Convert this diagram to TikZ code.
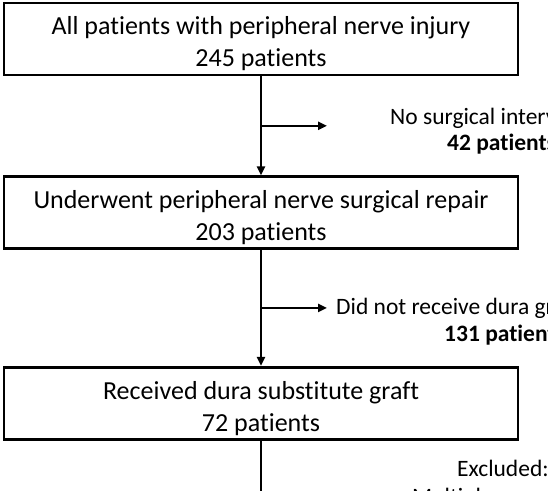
\documentclass[tikz,border=0pt]{standalone}
\usepackage{fontspec}
\setmainfont{Carlito}[Ligatures=NoCommon]
\usetikzlibrary{positioning,calc,arrows.meta}
\newcommand{\topgap}{\rule{0pt}{28pt}}

\begin{document}
\begin{tikzpicture}[x=1pt,y=-1pt]
        \tikzstyle{every node}=[inner sep=1pt]
        \tikzstyle{box}=[draw,line width=2.6pt,minimum width=514pt,minimum height=72pt,align=center,font=\fontsize{26}{32}\selectfont]
        \tikzstyle{side}=[anchor=west,font=\fontsize{23.5}{27}\selectfont]
        \tikzstyle{count}=[side,font=\fontsize{23.5}{27}\selectfont\bfseries]
        \tikzstyle{flow}=[line width=2.4pt]
        \tikzstyle{arr}=[flow,-{Triangle[length=9pt,width=8pt]}]
        \useasboundingbox (0,0) rectangle (548,490);
        % the three boxes
        \node[box] (all) at (261,39) {\topgap All patients with peripheral nerve injury\\245 patients};
        \node[box,below=99pt of all] (surg) {\topgap Underwent peripheral nerve surgical repair\\203 patients};
        \node[box,below=116pt of surg] (graft) {\topgap Received dura substitute graft\\72 patients};
        % branches
        \coordinate (b1) at ($(all.south)!0.5!(surg.north)$);
        \coordinate (b1e) at ([xshift=66pt]b1);
        \coordinate (b2) at ($(surg.south)!0.5!(graft.north)$);
        \coordinate (b2e) at ([xshift=66pt]b2);
        \coordinate (down) at ([yshift=-60pt]graft.south);
        \draw[arr] (all.south) -- (surg.north);
        \draw[arr] (b1) -- (b1e);
        \draw[arr] (surg.south) -- (graft.north);
        \draw[arr] (b2) -- (b2e);
        \draw[flow] (graft.south) -- (down);
        % side notes
        \node[side] (none) at ([xshift=62pt,yshift=7pt]b1e) {No surgical intervention};
        \node[count] (none n) at ([xshift=119pt,yshift=-18pt]b1e) {42 patients};
        \node[side] (nograft) at ([xshift=8pt,yshift=0pt]b2e) {Did not receive dura graft};
        \node[count] (nograft n) at ([xshift=116pt,yshift=-27pt]b2e) {131 patients};
        \node[side] (excl) at (456,468) {Excluded:};
        \node[side] (multi) at (411,498) {Multiple};
    \end{tikzpicture}
\end{document}
